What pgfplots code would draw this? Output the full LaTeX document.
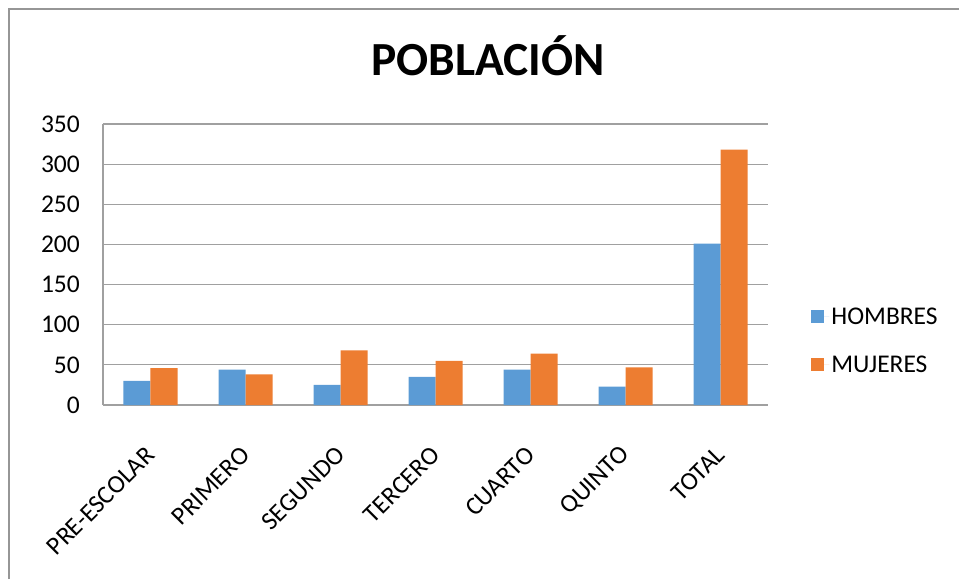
\documentclass[border=0pt]{standalone}
\usepackage{pgfplots}
\pgfplotsset{compat=1.18}
\usepackage{fontspec}
\setmainfont{Carlito}
\definecolor{hombres}{RGB}{91,155,213}
\definecolor{mujeres}{RGB}{237,125,49}
\definecolor{rejilla}{RGB}{160,160,160}
\definecolor{marco}{RGB}{150,150,150}

\begin{document}
\begin{tikzpicture}
\useasboundingbox (0,0) rectangle (959pt,579pt);
% marco del grafico
\draw[marco, line width=1.5pt] (9pt,0pt) -- (9pt,570pt) -- (959pt,570pt);

\begin{axis}[
  at={(103pt,174pt)}, anchor=south west,
  scale only axis,
  width=665pt, height=281pt,
  ybar=0pt, bar width=27pt,
  xmin=-0.5, xmax=6.5,
  ymin=0, ymax=350,
  ytick={0,50,100,150,200,250,300,350},
  xtick=data,
  xticklabels={PRE-ESCOLAR,PRIMERO,SEGUNDO,TERCERO,CUARTO,QUINTO,TOTAL},
  major tick length=0pt,
  axis line style={rejilla, line width=1.2pt},
  axis x line*=bottom, axis y line*=left,
  ymajorgrids=true,
  grid style={rejilla, line width=1.2pt},
  tick label style={font=\fontsize{25.5}{28}\selectfont, inner sep=0pt},
  /pgf/number format/assume math mode=true,
  yticklabel style={anchor=east, xshift=-23pt},
  xticklabel style={anchor=east, xshift=0pt, yshift=-46pt, rotate=45},
  legend style={at={(axis description cs:1.065,0.228)}, anchor=west,
    draw=none, fill=none, inner sep=0pt,
    font=\fontsize{25.5}{28}\selectfont,
    row sep=26pt},
  legend cell align=left,
  legend image code/.code={\fill[#1] (0pt,-6.5pt) rectangle (13pt,6.5pt);
    \path (0pt,0pt) -- (18pt,0pt);},
]
\addplot[draw=none, fill=hombres] coordinates {
  (0,30) (1,44) (2,25) (3,35) (4,44) (5,23) (6,201)
};
\addlegendentry{HOMBRES}
\addplot[draw=none, fill=mujeres] coordinates {
  (0,46) (1,38) (2,68) (3,55) (4,64) (5,47) (6,318)
};
\addlegendentry{MUJERES}
\end{axis}

\node[anchor=base, font=\fontsize{47.5}{52}\selectfont\bfseries] at (488pt,503pt) {POBLACIÓN};
\end{tikzpicture}
\end{document}
